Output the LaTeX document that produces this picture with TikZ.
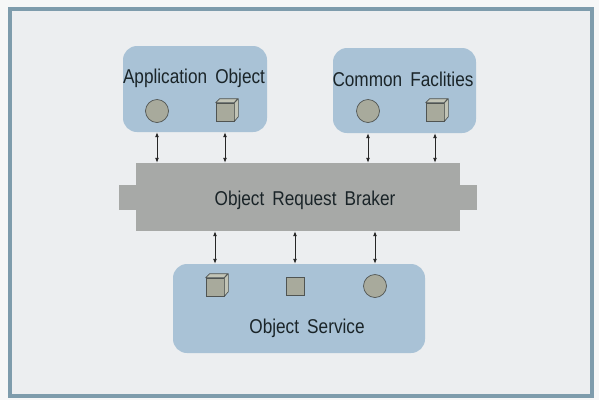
\documentclass[tikz,border=0pt]{standalone}
\usepackage{fontspec}
\setmainfont[FakeStretch=0.86,WordSpace=1.7]{Liberation Sans}
\usetikzlibrary{arrows.meta}
\definecolor{outerbg}{HTML}{F6F7F7}
\definecolor{innerbg}{HTML}{ECEEF0}
\definecolor{framec}{HTML}{7E9CAC}
\definecolor{boxc}{HTML}{A9C2D6}
\definecolor{orbc}{HTML}{A7A9A7}
\definecolor{shapec}{HTML}{A8AA9C}
\definecolor{shapetop}{HTML}{C2C4B6}
\definecolor{linec}{HTML}{505452}
\definecolor{textc}{HTML}{1A2428}
\tikzset{
  groupbox/.style={fill=boxc, draw=none, rounded corners=14pt, inner sep=0pt},
  orbbox/.style={fill=orbc, draw=none, inner sep=0pt},
  lbl/.style={text=textc, font=\fontsize{20}{22}\selectfont, inner sep=0pt},
  circ/.style={circle, fill=shapec, draw=linec, line width=0.7pt, minimum size=23pt, inner sep=0pt},
  sq/.style={rectangle, fill=shapec, draw=linec, line width=0.7pt, minimum size=18pt, inner sep=0pt},
  cubeface/.style={fill=shapetop, draw=linec, line width=0.7pt, line join=round},
  link/.style={{Latex[length=5pt,width=4pt]}-{Latex[length=5pt,width=4pt]}, draw=black!85, line width=0.9pt},
}
\newcommand{\cubeextra}[1]{%
  \draw[cubeface] (#1.north west) -- ++(4,-4) -- ++(18,0) -- (#1.north east) -- cycle;
  \draw[cubeface] (#1.north east) -- ++(4,-4) -- ++(0,18) -- (#1.south east) -- cycle;
}
\begin{document}
\begin{tikzpicture}[x=1pt,y=-1pt]
\useasboundingbox (0,0) rectangle (599,400);
\fill[outerbg] (0,0) rectangle (599,400);
\draw[framec, line width=4.5pt, fill=innerbg] (10,9) rectangle (592,396);

% top-left group
\node[groupbox, minimum width=144pt, minimum height=86pt] (ao) at (195,89) {};
\node[lbl] (aot) at (194,78) {Application Object};
\node[circ] (ao1) at (157,111) {};
\node[sq] (ao2) at (225,112) {};
\cubeextra{ao2}

% top-right group
\node[groupbox, minimum width=143pt, minimum height=85pt] (cf) at (404.5,90.5) {};
\node[lbl] (cft) at (403,79) {Common Faclities};
\node[circ] (cf1) at (368,111) {};
\node[sq] (cf2) at (435,112) {};
\cubeextra{cf2}

% ORB
\node[orbbox, minimum width=358pt, minimum height=25pt] (orbtab) at (298,197.5) {};
\node[orbbox, minimum width=324pt, minimum height=68pt] (orb) at (298,197) {};
\node[lbl] (orbt) at (305,200) {Object Request Braker};

% bottom group
\node[groupbox, minimum width=252pt, minimum height=89pt] (os) at (299,308.5) {};
\node[lbl] (ost) at (307,328) {Object Service};
\node[sq] (os1) at (215,287) {};
\cubeextra{os1}
\node[sq] (os2) at (295,286) {};
\node[circ] (os3) at (375,286) {};

% links
\draw[link] (ao1 |- ao.south) -- (ao1 |- orb.north);
\draw[link] (ao2 |- ao.south) -- (ao2 |- orb.north);
\draw[link] (cf1 |- cf.south) -- (cf1 |- orb.north);
\draw[link] (cf2 |- cf.south) -- (cf2 |- orb.north);
\draw[link] (os1 |- orb.south) -- (os1 |- os.north);
\draw[link] (os2 |- orb.south) -- (os2 |- os.north);
\draw[link] (os3 |- orb.south) -- (os3 |- os.north);
\end{tikzpicture}
\end{document}
